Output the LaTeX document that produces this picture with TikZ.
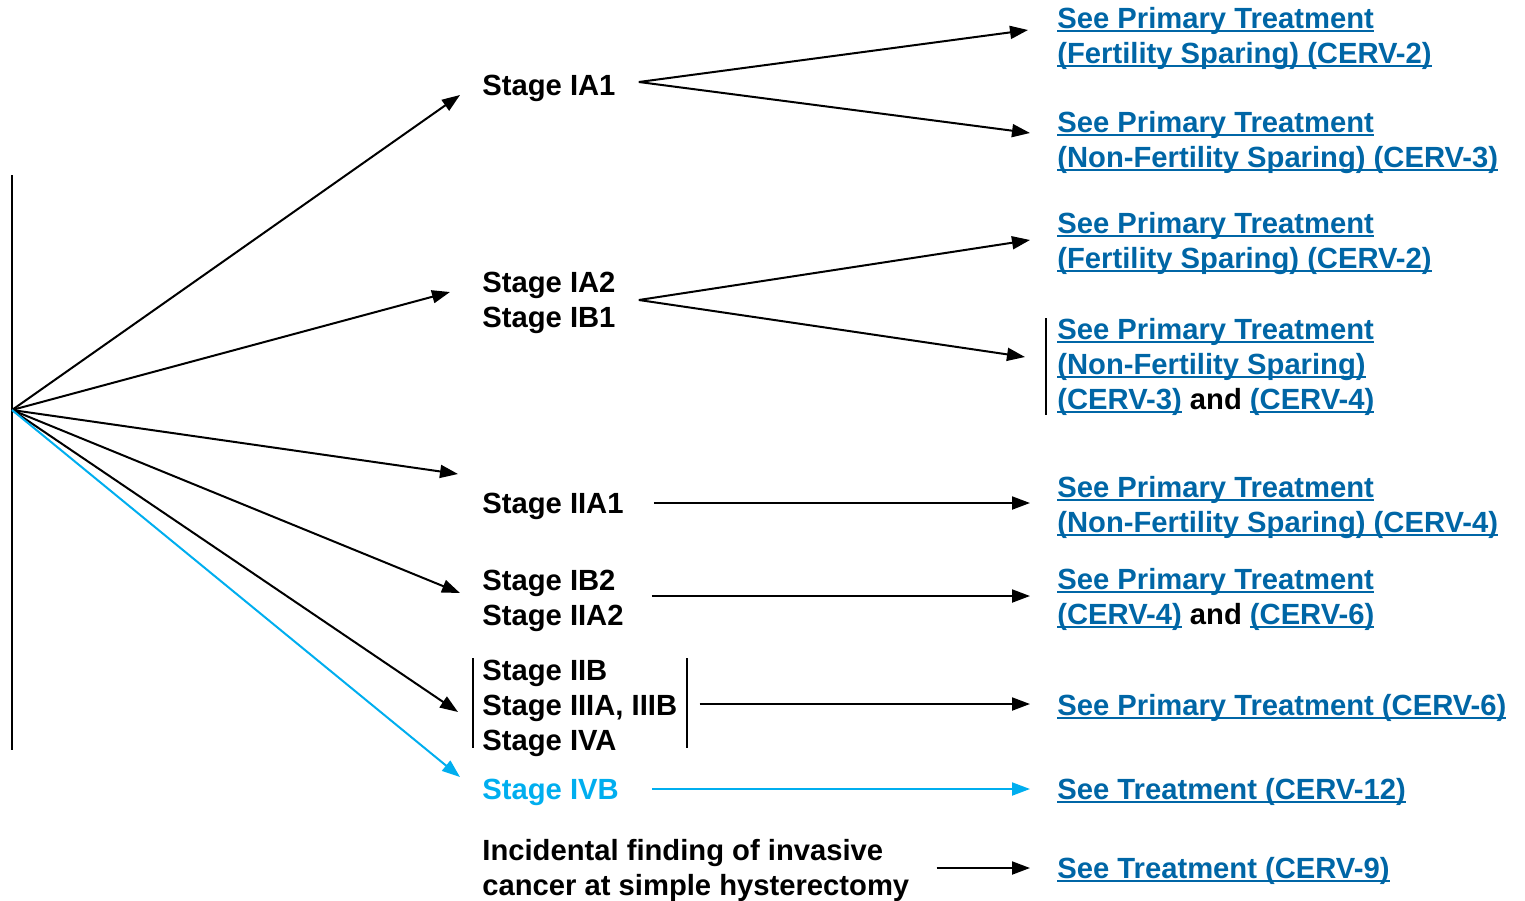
\documentclass[tikz,border=0pt]{standalone}
\usepackage{fontspec}
\setmainfont{Liberation Sans}
\usepackage{xcolor}
\usetikzlibrary{arrows.meta,positioning}
\definecolor{linkblue}{RGB}{0,102,166}
\definecolor{stagecyan}{RGB}{0,174,239}
\newsavebox\lnkbox
\newcommand{\lnk}[1]{{\color{linkblue}\sbox\lnkbox{#1}\rlap{\rule[-2pt]{\wd\lnkbox}{1pt}}\usebox\lnkbox}}
\tikzset{every node/.append style={font=\fontsize{14.6}{17.5}\selectfont\bfseries, inner sep=0pt}}
\tikzset{stage/.style={anchor=base west, align=left},
  target/.style={anchor=base west, align=left},
  arr/.style={-{Triangle[length=9pt,width=6.5pt]}, line width=1pt}}

\begin{document}
\begin{tikzpicture}[x=0.5pt,y=-0.5pt]
      \useasboundingbox (0,0) rectangle (1525,900);
      \coordinate (hub) at (12,410);
      \draw[line width=1pt] (12,175) -- (12,750);

      \node[stage] (s1) at (482,95) {Stage IA1};
      \node[stage] (s2) at (482,327) {Stage IA2\\Stage IB1};
      \node[stage] (s3) at (482,513) {Stage IIA1};
      \node[stage] (s4) at (482,625) {Stage IB2\\Stage IIA2};
      \node[stage] (s5) at (482,750) {Stage IIB\\Stage IIIA, IIIB\\Stage IVA};
      \node[stage, text=stagecyan] (s6) at (482,799) {Stage IVB};
      \node[stage] (s7) at (482,895) {Incidental finding of invasive\\cancer at simple hysterectomy};

      \node[target] (t1) at (1057,63) {\lnk{See Primary Treatment}\\\lnk{(Fertility Sparing) (CERV-2)}};
      \node[target] (t2) at (1057,167) {\lnk{See Primary Treatment}\\\lnk{(Non-Fertility Sparing) (CERV-3)}};
      \node[target] (t3) at (1057,268) {\lnk{See Primary Treatment}\\\lnk{(Fertility Sparing) (CERV-2)}};
      \node[target] (t4) at (1057,409) {\lnk{See Primary Treatment}\\\lnk{(Non-Fertility Sparing)}\\\lnk{(CERV-3)} and \lnk{(CERV-4)}};
      \node[target] (t5) at (1057,532) {\lnk{See Primary Treatment}\\\lnk{(Non-Fertility Sparing) (CERV-4)}};
      \node[target] (t6) at (1057,624) {\lnk{See Primary Treatment}\\\lnk{(CERV-4)} and \lnk{(CERV-6)}};
      \node[target] (t7) at (1057,715) {\lnk{See Primary Treatment (CERV-6)}};
      \node[target] (t8) at (1057,799) {\lnk{See Treatment (CERV-12)}};
      \node[target] (t9) at (1057,878) {\lnk{See Treatment (CERV-9)}};

      % brackets
      \draw[line width=1pt] ([shift={(-9,-92)}]s5.base west) -- ([shift={(-9,-2)}]s5.base west);
      \draw[line width=1pt] ([shift={(9,-92)}]s5.base east) -- ([shift={(9,-2)}]s5.base east);
      \draw[line width=1pt] ([shift={(-11,-91)}]t4.base west) -- ([shift={(-11,6)}]t4.base west);

      \draw[arr] (hub) -- ([shift={(-22,0)}]s1.base west);
      \draw[arr] (hub) -- ([shift={(-32,-35)}]s2.base west);
      \draw[arr] (hub) -- ([shift={(-24,-39)}]s3.base west);
      \draw[arr] (hub) -- ([shift={(-22,-32)}]s4.base west);
      \draw[arr] (hub) -- ([shift={(-24,-38)}]s5.base west);
      \draw[arr, color=stagecyan] (hub) -- ([shift={(-22,-22)}]s6.base west);

      \draw[arr] ([shift={(23,-13)}]s1.base east) -- ([shift={(-29,-33)}]t1.base west);
      \draw[arr] ([shift={(23,-13)}]s1.base east) -- ([shift={(-27,-34)}]t2.base west);
      \draw[arr] ([shift={(23,-27)}]s2.base east) -- ([shift={(-27,-28)}]t3.base west);
      \draw[arr] ([shift={(23,-27)}]s2.base east) -- ([shift={(-32,-52)}]t4.base west);
      \draw[arr] ([shift={(30,-10)}]s3.base east) -- ([shift={(-27,-29)}]t5.base west);
      \draw[arr] ([shift={(28,-29)}]s4.base east) -- ([shift={(-27,-28)}]t6.base west);
      \draw[arr] ([shift={(22,-46)}]s5.base east) -- ([shift={(-27,-11)}]t7.base west);
      \draw[arr, color=stagecyan] ([shift={(33,-10)}]s6.base east) -- ([shift={(-27,-10)}]t8.base west);
      \draw[arr] ([shift={(27,-27)}]s7.base east) -- ([shift={(-27,-10)}]t9.base west);
    \end{tikzpicture}
\end{document}
